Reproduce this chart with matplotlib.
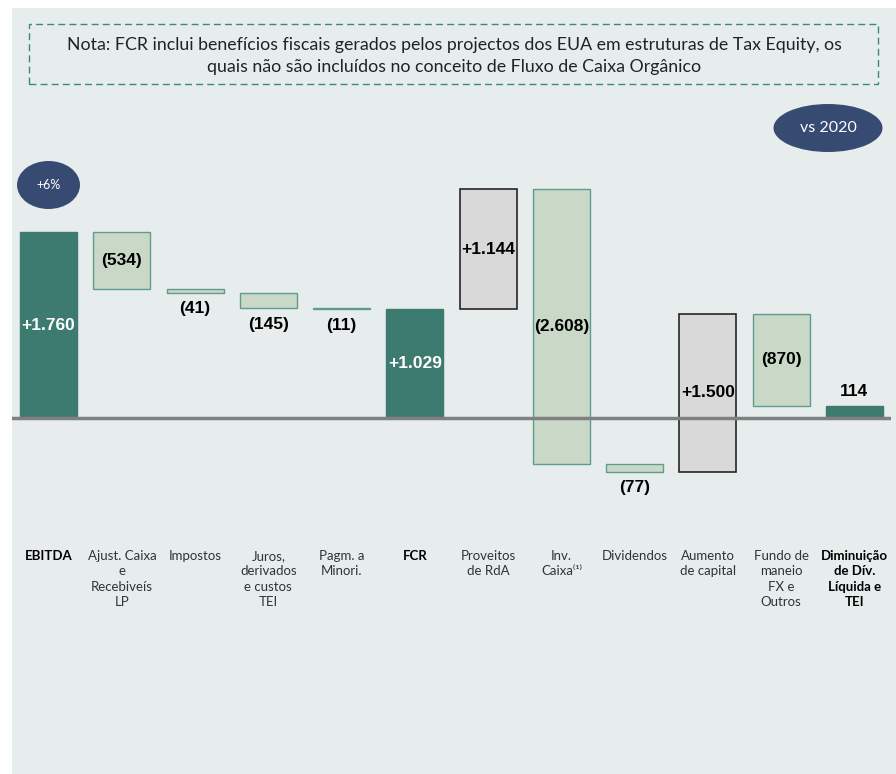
import numpy as np
import matplotlib.pyplot as plt
from matplotlib.patches import Rectangle, Ellipse

plt.rcParams['font.family'] = ['Lato', 'DejaVu Sans']

# data (EUR million, waterfall)
categories = ['EBITDA', 'Ajust. Caixa\ne\nRecebiveís\nLP', 'Impostos',
              'Juros,\nderivados\ne custos\nTEI', 'Pagm. a\nMinori.', 'FCR',
              'Proveitos\nde RdA', 'Inv.\nCaixa⁽¹⁾', 'Dividendos',
              'Aumento\nde capital', 'Fundo de\nmaneio\nFX e\nOutros',
              'Diminuição\nde Dív.\nLíquida e\nTEI']
values = [1760, -534, -41, -145, -11, 1029, 1144, -2608, -77, 1500, -870, 114]
kinds = ['total', 'neg', 'neg', 'neg', 'neg', 'total', 'pos', 'neg', 'neg',
         'pos', 'neg', 'total']
value_labels = ['+1.760', '(534)', '(41)', '(145)', '(11)', '+1.029', '+1.144',
                '(2.608)', '(77)', '+1.500', '(870)', '114']
bold_cats = ['EBITDA', 'FCR', 'Diminuição\nde Dív.\nLíquida e\nTEI']

note = ('Nota: FCR inclui benefícios fiscais gerados pelos projectos dos EUA em estruturas de Tax Equity, os\n'
        'quais não são incluídos no conceito de Fluxo de Caixa Orgânico')

fill = {'total': '#3d7b71', 'neg': '#c9d8c7', 'pos': '#d9d9d9'}
edge = {'total': '#3d7b71', 'neg': '#5f9c8f', 'pos': '#262626'}
label_font = ['Liberation Sans', 'DejaVu Sans']

W, H = 896, 774
fig = plt.figure(figsize=(W / 100, H / 100), dpi=100)
fig.patch.set_facecolor('white')

# panel background
fig.add_artist(Rectangle((12 / W, 0), 1 - 12 / W, 1 - 8 / H, transform=fig.transFigure,
                         facecolor='#e7eded', edgecolor='none', zorder=-10))

# dashed note box
fig.add_artist(Rectangle((29 / W, 1 - 84 / H), (878 - 29) / W, 60 / H, transform=fig.transFigure,
                         facecolor='none', edgecolor='#3a8a78', lw=1, linestyle=(0, (5, 3))))
fig.text(454 / W, 1 - 56 / H, note, ha='center', va='center', fontsize=12.8,
         color='#222222', linespacing=1.4)

# ellipses
fig.add_artist(Ellipse((828 / W, 1 - 128 / H), 109 / W, 48 / H, transform=fig.transFigure,
                       facecolor='#374a72', edgecolor='none'))
fig.text(828 / W, 1 - 128 / H, 'vs 2020', ha='center', va='center', fontsize=11.5, color='white')
fig.add_artist(Ellipse((48.5 / W, 1 - 185 / H), 63 / W, 48 / H, transform=fig.transFigure,
                       facecolor='#374a72', edgecolor='none'))
fig.text(48.5 / W, 1 - 185 / H, '+6%', ha='center', va='center', fontsize=9, color='white')

ax = fig.add_axes([12 / W, 1 - 530 / H, 879 / W, 430 / H])
ax.set_facecolor('none')
ax.set_xlim(-0.5, 11.5)
ax.set_ylim(-1062, 3014)
for s in ax.spines.values():
    s.set_visible(False)
ax.set_xticks([])
ax.set_yticks([])

running = 0
for i, (v, k, lbl) in enumerate(zip(values, kinds, value_labels)):
    if k == 'total':
        bottom = 0
        running = v
    else:
        bottom = running if v > 0 else running + v
        running += v
    h = abs(v)
    ax.bar(i, h, bottom=bottom, width=0.78, color=fill[k], edgecolor=edge[k],
           linewidth=1.2 if k == 'pos' else 1, zorder=2)

    if h > 300:
        col = 'white' if k == 'total' else 'black'
        ax.text(i, bottom + h / 2, lbl, ha='center', va='center', fontsize=12.5,
                fontweight='bold', color=col, family=label_font, zorder=5)
    elif k == 'total':
        ax.annotate(lbl, (i, bottom + h), xytext=(0, 5), textcoords='offset points',
                    ha='center', va='bottom', fontsize=12.5, fontweight='bold',
                    family=label_font, zorder=5)
    else:
        ax.annotate(lbl, (i, bottom), xytext=(0, -6), textcoords='offset points',
                    ha='center', va='top', fontsize=12.5, fontweight='bold',
                    family=label_font, zorder=5)

ax.axhline(0, color='#808080', lw=2.5, zorder=3)

for i, c in enumerate(categories):
    bold = c in bold_cats
    ax.text(i, -0.047, c, transform=ax.get_xaxis_transform(), ha='center', va='top',
            fontsize=9.5, linespacing=1.32, color='black' if bold else '#333333',
            fontweight='bold' if bold else 'normal')

fig.savefig('out.png', dpi=100)
